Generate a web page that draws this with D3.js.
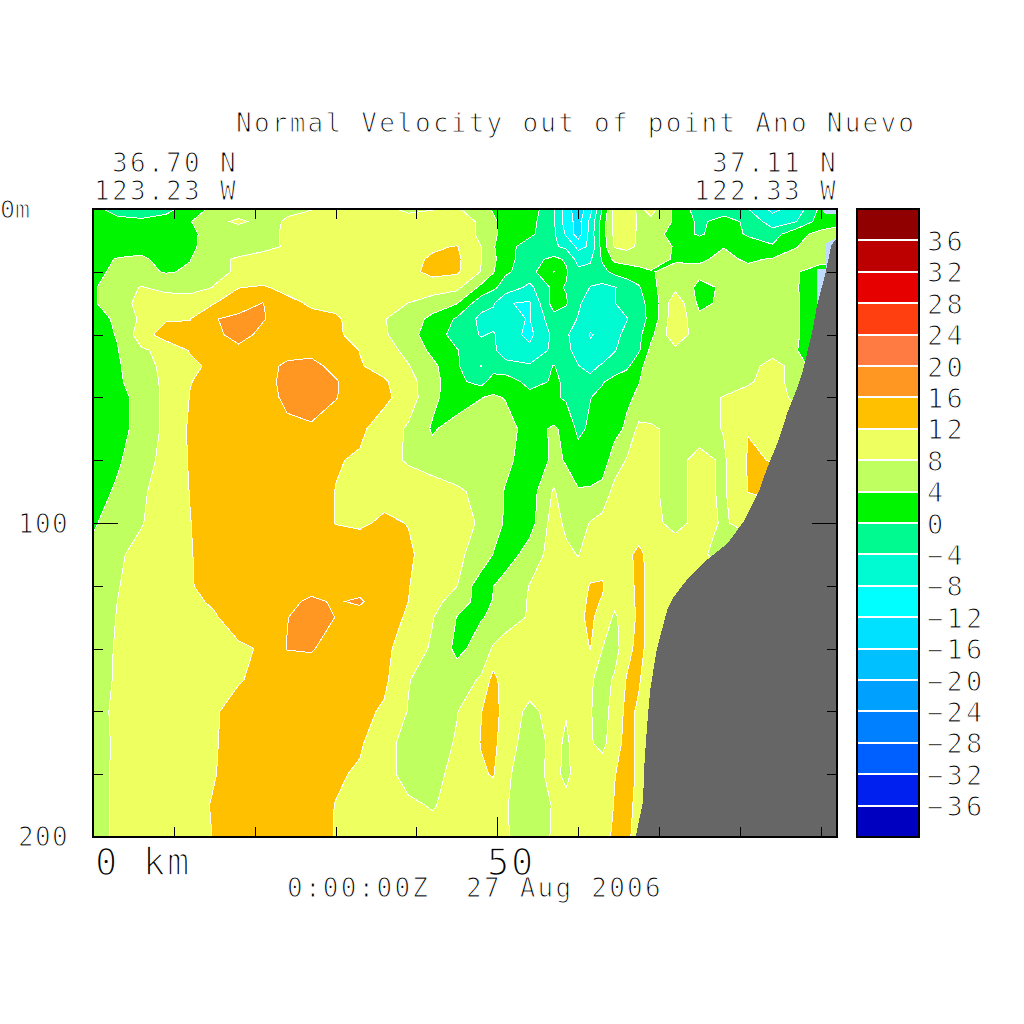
<!DOCTYPE html>
<html>
<head>
<meta charset="utf-8">
<script src="https://cdn.jsdelivr.net/npm/d3@7"></script>
<style>
  body { margin: 0; background: #fff; }
  text { font-family: "DejaVu Sans Mono", monospace; fill: #000; stroke: #fff; }
</style>
</head>
<body>
<div id="chart"></div>
<script>
// section grid, km along the section and depth in m
const gridKm = [0,3,6,9,12,15,18,21,24,27,30,33,36,39,42,45,48,49.5,51,54,57,58.5,60,61.5,63,64.5,66,67.5,69,72,75,78,81,84,87,90,92];
const gridDepth = [0,4,8,12,16,20,25,30,35,40,45,50,55,60,70,80,90,100,110,120,125,130,140,150,160,170,180,190,200];

// normal velocity, one row per depth
const velocity = [
  [1.5,-2,-3,-1.5,2,5,6,6.5,7.5,7.9,9,9.5,9,7,7.8,8.6,5,3.7,3,2.5,-3.8,-10,-14.5,-9.5,0.2,9.5,11,7,9.5,3,-2,-2.5,-3.9,-9,-6.5,1,2],
  [1,1.5,1,2,3.8,7,8.6,7,8.3,9,9.5,10,10,10,10,9.5,7.5,4.5,3,1.5,-3.5,-10,-13.5,-7,2,9,10,7.5,7,3.5,-1,2,-1,-6,-4,2,2.5],
  [1.5,2,2,2.5,3.5,5,6,7,8.5,9,10,10,10,10,10.5,9.5,7.5,4.5,3,1,-3.5,-8.5,-14,-6.5,2,9,9.5,7.5,6.5,2,-0.5,2,-0.5,-2,3,5,6],
  [1.5,2.5,3,3,3.6,5,6,7,8.4,9.5,10,10,10,10.5,11.5,12.2,8,4.3,2,-2.5,-3.5,-4.8,-9,-7.5,2,8.3,9,7.5,6,3.7,2.5,3.9,2,0.5,3.9,6,6.5],
  [2.8,4.2,4.5,3,3.9,7,8.5,9.5,10,10.5,11,10.5,10.5,11,12.5,12.8,8.1,5,1,-1.5,1,-0.5,-5.5,-4.5,0.5,5,5.5,5.5,5.5,3.6,3.5,4.8,3.5,4.3,5,6,6.5],
  [3,4.8,5,3.7,4.4,7,8.5,9.5,10,10.5,10.5,10.5,10.5,11,13,12.6,7.8,4.3,0.5,-1.5,4.1,0.5,-3,-3,-1,1,2,3,3.8,5,5,5,5,5.5,4.5,1,1],
  [3.5,6.5,8.2,7,6,8.2,11.9,12.4,11,11,11,11,10.5,10.5,10,9,3,0.7,-1.5,-5,1,-0.3,-2.5,-4.1,-5,-4.2,-2.5,-0.5,3,7,3,4.5,5.5,6,4.3,1,0],
  [3.5,6.5,9,10,11,11.9,14,16.1,13,11.5,11,10.5,9.5,7.95,6,4.2,-2.5,-3.5,-7.8,-8.4,2,0.5,-3.5,-5.5,-6,-4.1,-2.5,-0.5,0.5,11,3,4.8,5.5,6.5,4.5,0.5,0],
  [3,4.4,8.8,11.5,11.9,15.8,17,16.3,14,13,12.5,10.5,8.2,6,3,-0.5,-5,-5.5,-7.5,-8.1,-1.5,-2.5,-4.2,-6,-7,-6,-4.2,-1.5,1,11,5,6,6,6.5,4.5,1,0],
  [2.5,4.2,10,14,12.9,15,17.5,15,14,13.5,12.7,10.5,8.5,5.5,2,-1.5,-4.3,-3.6,-6,-9,-3,-3.7,-5,-8.3,-7,-5,-3,-1,3,11,5.5,6,6,6.5,4.5,0.5,0],
  [2.5,3.8,7.5,9,12.3,14,15,15,15,15,14,11.9,9.5,7,3,0.2,-2.5,-3.5,-5.5,-7,-3,-3.3,-5,-7,-6.5,-4.2,-2.5,-0.5,5,7,6,6,6.5,7,4.2,0,0],
  [2,3.5,6.5,9,11,13,14,15,16.5,17,15,12.3,10.5,8.2,5,0.5,-4.1,-2,-3,-3.5,0.2,-2,-3.9,-5,-3.5,-2.5,-1,3,5.8,6,6,6,7,9,7,0,0],
  [1.5,3.5,5.5,9,11.9,13,14,15,16.8,17.5,16.3,14,12.5,9.5,5.5,1,-1.5,2,2.5,-1.5,0.5,-0.5,-3,-3,-0.3,1.5,3,3.9,5.5,6,6,6,7.5,9.5,6.5,0,0],
  [1.5,3,5,9,12.1,13,14.5,15,16.5,17.8,16.1,15,13,10,5,1.5,3.9,4.5,3.8,1.5,0.5,-0.5,-1.5,-0.1,1,2.2,3.5,4.5,5.5,6,6.5,8.2,9.5,10,7,0,0],
  [1.5,3,5,9,12.5,14,15,15,15.5,15.5,15,12.8,10,7.5,3.5,6,6,6,5.5,2.5,4.5,3,-1,0.7,2,3,4.5,9,8.5,7,6.5,8.2,11.9,11.5,11,10,10],
  [1.5,3.5,6,9.5,12.3,13.5,14.5,15,15,15,12.3,11.5,9.5,7.5,6,6,6,5.5,5,2,4.6,3.8,2,1.5,2.5,5.5,8.3,9,8.5,7,9,7.5,12.3,11.9,11,11,11],
  [2.5,4.5,7.5,9.5,12.1,13.5,14,14.5,15,14.5,11.9,11,11,10.5,10,8.5,7.2,5.5,3.7,2,8.5,5,4.3,4.5,5,9.5,10.5,10,8.5,7,9,7.5,12.1,13,13,13,13],
  [3.5,6,7.8,10,11.9,14,14,14.5,14.5,14,11.9,11.5,12.5,11.9,10.5,9.5,7.5,5.5,3.6,2.2,10,7,6.5,8.2,9.5,10,10,9.5,9,7,9,7.7,9,9,9,9,9],
  [5,7.5,9,9.5,11.8,13.5,14,14,14.5,14.5,14,14,13.5,12.5,10.5,8.5,7,3.9,1.5,6,9.5,9,7.8,10,10.5,11,11,13,10.5,10,8.5,7,6,6,6,6,6],
  [6,7.8,9.5,10,11.8,13,14,14,14.5,15,15,14.5,14,12.1,10.5,8.1,1.5,3.9,6,8.1,9.5,9.5,10.5,12.2,12.3,10,10.5,13,11,10,10,10,10,10,10,10,10],
  [6.2,8,9.5,10,11.4,12.4,13.8,14.5,15.3,16.5,15.7,16.5,13.5,12,9.5,6,2.5,4.2,5.8,8.3,9.5,9.8,10.8,12.6,11.8,8.8,10,13,11,10,10,10,10,10,10,10,10],
  [6.5,8.1,9.5,10,11,11.7,13.5,15,15.9,17.5,15.95,14.5,13,11.7,8.2,3.9,3.8,4.5,5.5,8.5,9.5,10,11,13,10,7.5,9.5,13,11,10,10,10,10,10,10,10,10],
  [6.5,8.3,9.5,10,10.5,11,11.5,12.3,16.1,16.3,14.5,14.5,13,10,7.5,3,5.5,8.5,10.5,9.5,10,10,10.5,12.1,8,6.5,10.5,13.5,10,10,10,10,10,10,10,10,10],
  [6.5,8.4,9.5,10,10.5,11,11.8,12.7,14,14,14,14,12.8,8.2,6,6,8.5,13.5,9.5,10,10,10,10,8.5,6.5,8.5,12.3,12.3,10,10,10,10,10,10,10,10,10],
  [6.5,8.8,10,10.5,11,11.7,13,14,14,14,14,13,11.5,7.8,6.5,7.8,11.9,13.5,10.5,7,9.5,8.2,10,8.2,6.5,9.5,13,11.5,10,10,10,10,10,10,10,10,10],
  [6,8.8,10,10.5,11,11.8,13,14,14,14.5,14,12.5,9.5,6.5,6,8.4,12.2,13,10,6,9,7.5,9.5,8.3,7,10,13.5,11,10,10,10,10,10,10,10,10,10],
  [6,8.9,10,10.5,11,11.9,13,14,14,14,12.5,11.5,9,7,7,9,11.5,12.3,8.5,6.5,9,7.2,9.5,9.5,10,11.9,13,11.5,10,10,10,10,10,10,10,10,10],
  [6,8.9,10,10.5,11.2,12.2,13.5,14,14,13.5,11.9,10.5,9.5,8.5,7.8,9,9.5,9.5,8.2,6.5,8.2,9,9.5,9.5,10,12.2,13,11,9,9,9,9,9,9,9,9,9],
  [6,9,10,10.5,11,12.1,14,14,14,13,11.9,10.5,10,9.5,9,8.5,9,8.8,8.3,6.5,8.3,9,9.5,10,11,12.5,13,10,9,9,9,9,9,9,9,9,9]
];

// bottom topography outline
const landKm = [67.1,68,68.2,68.5,68.9,69.7,71,71.7,73.4,75.6,78.5,80.6,82.4,83.4,84.7,85.9,87,87.8,88.9,89.5,90.6,91.3,92,92];
const landDepth = [200,188.9,176.4,165,153.2,140.4,127.7,123.9,118.2,112.4,106.4,99,89.5,82.2,74.2,64.6,57.6,51.3,39.5,31.2,20.1,11.5,9.2,200];

// pale patches next to the coast
const patchKm = [89.5,89.5,90.6,90.6,91.3,92,91.3,90.6];
const patchDepth = [31.2,19.1,19.1,10.8,10.2,9.2,11.5,20.1];
const topPatchKm = [90.1,92,92,90.5];
const topPatchDepth = [0,0,1.6,1.6];

// colour bands, one per 4 units from -40 up
const levels = d3.range(-40, 40, 4);
const bandColors = ["#0000c0","#0020f0","#0060ff","#0080ff","#00a0ff","#00c0ff","#00e0ff","#00ffff","#00fad2","#00fa90",
                    "#00f500","#c0ff60","#eeff60","#ffc000","#ff9722","#ff7b42","#ff3f0f","#e60000","#bc0000","#900000"];

const xTicks = d3.range(0, 100, 10);
const yTicks = d3.range(20, 200, 20);
const legendTicks = d3.range(-36, 40, 4);

const plot = { left: 93, right: 837, top: 209, bottom: 837 };
const legend = { left: 857, right: 919 };

const svg = d3.select("#chart").append("svg")
  .attr("width", 1024).attr("height", 1024)
  .style("display", "block")
  .style("background", "#fff");

const x = d3.scaleLinear().domain([0, 92]).range([plot.left, plot.right]);
const y = d3.scaleLinear().domain([0, 200]).range([plot.top, plot.bottom]);

// grid index to km / depth, the grid is not evenly spaced
const colToKm = d3.scaleLinear().domain(d3.range(gridKm.length)).range(gridKm).clamp(true);
const rowToDepth = d3.scaleLinear().domain(d3.range(gridDepth.length)).range(gridDepth).clamp(true);

const project = d3.geoTransform({
  point(px, py) {
    this.stream.point(x(colToKm(px - 0.5)), y(rowToDepth(py - 0.5)));
  }
});
const contourPath = d3.geoPath(project);

svg.append("clipPath").attr("id", "plot-clip")
  .append("rect")
  .attr("x", plot.left).attr("y", plot.top)
  .attr("width", plot.right - plot.left).attr("height", plot.bottom - plot.top);

const field = svg.append("g").attr("clip-path", "url(#plot-clip)");

const contours = d3.contours()
  .size([gridKm.length, gridDepth.length])
  .thresholds(levels)(velocity.flat());

field.selectAll("path.band")
  .data(contours)
  .join("path")
  .attr("class", "band")
  .attr("d", contourPath)
  .attr("fill", (d, i) => bandColors[i])
  .attr("stroke", d => d.value === levels[0] ? "none" : "#fff")
  .attr("stroke-width", 1)
  .attr("shape-rendering", "crispEdges");

const outline = d3.line().x(d => x(d[0])).y(d => y(d[1])).curve(d3.curveLinearClosed);

field.append("path")
  .attr("d", outline(d3.zip(patchKm, patchDepth)))
  .attr("fill", "#bfdbff")
  .attr("shape-rendering", "crispEdges");
field.append("path")
  .attr("d", outline(d3.zip(topPatchKm, topPatchDepth)))
  .attr("fill", "#bfdbff")
  .attr("shape-rendering", "crispEdges");
field.append("path")
  .attr("d", outline(d3.zip(landKm, landDepth)))
  .attr("fill", "#666666")
  .attr("shape-rendering", "crispEdges");

// ticks point into the plot, the 50 km and 100 m ones are longer
function tickAxis(axis, size, longValue, longSize, tx, ty) {
  const g = svg.append("g")
    .attr("transform", `translate(${tx},${ty})`)
    .call(axis.tickSize(size).tickFormat(""));
  g.select(".domain").remove();
  g.selectAll(".tick line")
    .attr("stroke", "#000")
    .attr("shape-rendering", "crispEdges")
    .each(function (d) {
      if (d === longValue) {
        const line = d3.select(this);
        ["x2", "y2"].forEach(k => {
          const v = +line.attr(k);
          if (v) line.attr(k, Math.sign(v) * longSize);
        });
      }
    });
}

tickAxis(d3.axisBottom(x).tickValues(xTicks), 10, 50, 20, 0, plot.top);
tickAxis(d3.axisTop(x).tickValues(xTicks), 10, 50, 20, 0, plot.bottom);
tickAxis(d3.axisRight(y).tickValues(yTicks), 10, 100, 25, plot.left, 0);
tickAxis(d3.axisLeft(y).tickValues(yTicks), 10, 100, 25, plot.right, 0);

svg.append("rect")
  .attr("x", plot.left).attr("y", plot.top)
  .attr("width", plot.right - plot.left).attr("height", plot.bottom - plot.top)
  .attr("fill", "none").attr("stroke", "#000").attr("stroke-width", 2);

// colour bar
const legendY = d3.scaleLinear().domain([40, -40]).range([plot.top, plot.bottom]);

svg.append("g").selectAll("rect")
  .data(levels)
  .join("rect")
  .attr("x", legend.left).attr("width", legend.right - legend.left)
  .attr("y", d => legendY(d + 4))
  .attr("height", d => legendY(d) - legendY(d + 4))
  .attr("fill", (d, i) => bandColors[i])
  .attr("shape-rendering", "crispEdges");

svg.append("g").selectAll("line")
  .data(legendTicks)
  .join("line")
  .attr("x1", legend.left).attr("x2", legend.right)
  .attr("y1", d => legendY(d)).attr("y2", d => legendY(d))
  .attr("stroke", "#fff").attr("stroke-width", 2)
  .attr("shape-rendering", "crispEdges");

svg.append("rect")
  .attr("x", legend.left).attr("y", plot.top)
  .attr("width", legend.right - legend.left).attr("height", plot.bottom - plot.top)
  .attr("fill", "none").attr("stroke", "#000").attr("stroke-width", 2);

// text: size sets the glyph height, pitch the distance from one letter to the next,
// a white stroke thins the letters down to the plotter look of the original
function textStyle(sel, size, pitch) {
  sel.style("font-size", `${size}px`)
    .style("letter-spacing", `${pitch - size * 0.602}px`)
    .style("stroke-width", `${size * 0.042}px`);
}

function label(text, lx, ly, size, pitch) {
  svg.append("text")
    .attr("x", lx).attr("y", ly)
    .style("white-space", "pre")
    .text(text)
    .call(textStyle, size, pitch);
}

const legendAxis = svg.append("g")
  .attr("transform", `translate(${legend.right + 8},0)`)
  .call(d3.axisRight(legendY).tickValues(legendTicks).tickSize(0).tickPadding(0));
legendAxis.select(".domain").remove();
legendAxis.selectAll("text")
  .attr("dy", 10)
  .call(textStyle, 27, 19.5);

label("Normal Velocity out of point Ano Nuevo", 236, 132, 26, 17.9);
label("36.70 N", 112, 172, 26, 18);
label("123.23 W", 94, 200, 26, 18);
label("37.11 N", 712, 172, 26, 18);
label("122.33 W", 694, 200, 26, 18);
label("0m", 0, 218, 25, 15);
label("100", 18, 533, 26, 17);
label("200", 18, 846, 26, 17);
label("0 km", 95, 875, 37, 24);
label("50", 487, 875, 37, 24);
label("0:00:00Z  27 Aug 2006", 287, 897, 26, 17.9);
</script>
</body>
</html>
